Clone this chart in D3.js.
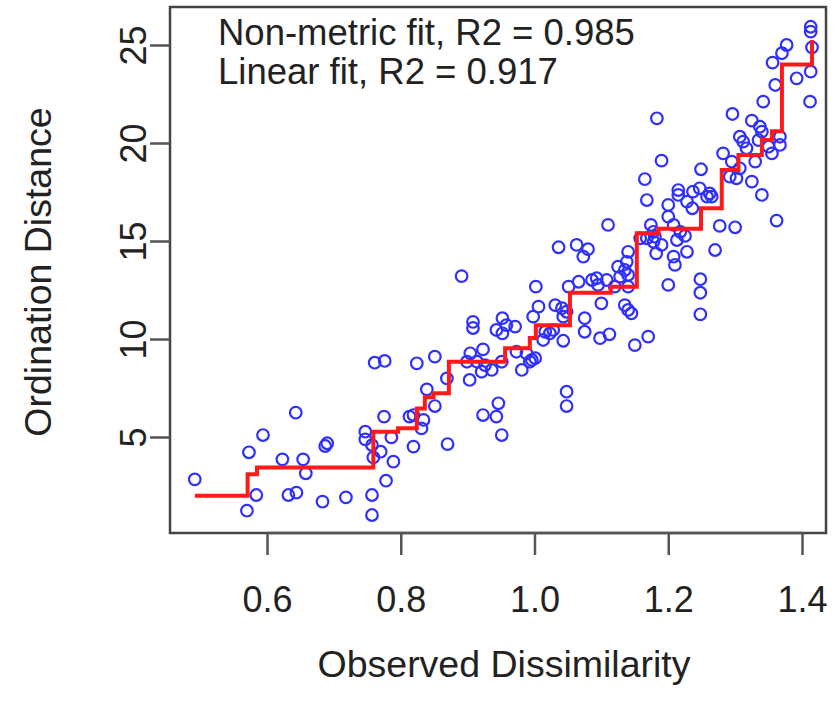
<!DOCTYPE html>
<html>
  <head>
    <meta charset="utf-8" />
    <title>Shepard plot</title>
    <style>
      body { margin: 0; background: #fff; }
      svg text { font-family: "Liberation Sans", Arial, sans-serif; fill: #222; }
    </style>
  </head>
  <body>
    <div id="chart"></div>
    <script src="https://d3js.org/d3.v7.min.js"></script>
    <script>
      // observed dissimilarity (x) and ordination distance (y)
      var dissim = [
        0.492, 0.643, 0.594, 0.573, 0.623, 0.654, 0.658, 0.687, 0.690, 0.584,
        0.570, 0.632, 0.644, 0.683, 0.718, 0.757, 0.757, 0.778, 0.775, 0.747,
        0.747, 0.786, 0.757, 0.770, 0.759, 0.789, 0.761, 0.776, 0.824, 0.851,
        0.904, 0.923, 0.914, 0.926, 0.899, 0.921, 0.936, 0.951, 0.973, 0.988,
        1.001, 0.993, 0.981, 0.869, 0.903, 0.839, 0.851, 0.813, 0.819, 0.834,
        0.831, 0.923, 0.946, 0.943, 0.951, 0.870, 0.819, 1.048, 1.048, 0.908,
        0.908, 0.952, 0.943, 0.952, 0.971, 0.958, 0.998, 1.006, 1.031, 1.041,
        1.043, 1.016, 1.023, 1.013, 1.043, 1.110, 1.036, 1.063, 1.080, 1.073,
        1.140, 1.125, 1.138, 1.135, 1.128, 1.140, 1.168, 1.180, 1.190, 1.213,
        1.225, 1.228, 1.208, 1.210, 1.182, 1.200, 1.002, 1.051, 1.066, 1.086,
        1.093, 1.108, 1.095, 1.120, 1.140, 1.100, 1.048, 1.135, 1.140, 1.145,
        1.075, 1.075, 1.098, 1.112, 1.028, 1.150, 1.170, 0.996, 1.342, 1.412,
        1.183, 1.296, 1.325, 1.340, 1.307, 1.312, 1.317, 1.335, 1.350, 1.355,
        1.367, 1.367, 1.282, 1.295, 1.307, 1.330, 1.190, 1.249, 1.165, 1.292,
        1.302, 1.325, 1.340, 1.215, 1.215, 1.237, 1.247, 1.262, 1.265, 1.258,
        1.228, 1.236, 1.200, 1.200, 1.168, 1.277, 1.300, 1.362, 1.174, 1.178,
        1.208, 1.218, 1.158, 1.178, 1.270, 1.248, 1.248, 1.248, 1.413, 1.413,
        1.415, 1.377, 1.370, 1.356, 1.360, 1.392, 1.413, 1.337, 0.891
      ];
      var ordDist = [
        2.84, 6.24, 5.10, 4.22, 3.86, 3.86, 3.15, 4.54, 4.68, 2.04,
        1.24, 2.04, 2.16, 1.70, 1.92, 2.04, 1.02, 2.77, 6.04, 5.27,
        4.88, 4.98, 4.59, 4.25, 3.96, 3.74, 8.79, 8.88, 8.76, 9.10,
        9.27, 9.47, 8.84, 8.67, 8.84, 8.33, 8.42, 8.84, 9.35, 9.27,
        9.02, 8.84, 8.42, 7.99, 7.91, 7.43, 6.58, 6.04, 6.12, 5.87,
        5.44, 6.12, 6.72, 6.04, 5.10, 4.64, 4.51, 7.31, 6.58, 10.87,
        10.56, 11.06, 10.46, 10.29, 10.63, 10.71, 11.14, 11.65, 11.73, 11.57,
        11.14, 10.37, 10.29, 9.95, 9.91, 15.82, 14.68, 14.80, 14.58, 14.20,
        14.45, 13.69, 13.94, 13.52, 13.18, 13.27, 15.14, 15.22, 14.80, 15.05,
        15.26, 14.45, 14.20, 13.78, 14.37, 12.76, 12.67, 12.67, 12.92, 13.01,
        13.10, 13.01, 12.76, 12.67, 12.67, 11.82, 11.39, 11.73, 11.48, 11.31,
        11.06, 10.37, 10.04, 10.24, 10.46, 9.69, 10.12, 8.93, 22.11, 22.11,
        21.26, 21.48, 21.14, 20.58, 20.32, 20.07, 19.73, 20.15, 19.81, 19.47,
        20.32, 19.90, 19.47, 19.05, 18.71, 19.05, 19.10, 18.66, 18.16, 18.28,
        18.20, 18.03, 17.35, 17.60, 17.35, 17.52, 17.69, 17.43, 17.26, 17.26,
        17.01, 16.67, 16.84, 16.24, 17.09, 15.77, 15.70, 16.04, 15.82, 15.47,
        15.82, 15.47, 15.14, 14.96, 14.54, 13.05, 12.36, 11.26, 25.93, 25.68,
        24.88, 25.00, 24.58, 24.10, 22.96, 23.30, 23.64, 20.83, 13.21
      ];

      // monotone (non-metric) fit: step start and level
      var stepX = [0.492, 0.571, 0.585, 0.759, 0.796, 0.824, 0.836, 0.849, 0.872, 0.956,
                   0.993, 1.002, 1.053, 1.114, 1.153, 1.185, 1.249, 1.280, 1.305, 1.340,
                   1.355, 1.370, 1.415];
      var stepY = [2.0, 3.1, 3.45, 5.27, 5.45, 6.46, 7.03, 7.23, 8.84, 9.53,
                   10.05, 10.7, 12.36, 12.67, 15.39, 15.62, 16.67, 18.62, 19.39, 20.15,
                   20.6, 24.0, 25.26];

      var xTicks = [0.6, 0.8, 1.0, 1.2, 1.4];
      var yTicks = [5, 10, 15, 20, 25];
      var fitLabels = ["Non-metric fit, R2 = 0.985", "Linear fit, R2 = 0.917"];

      var W = 835, H = 701;
      var box = { left: 170, right: 826, top: 7, bottom: 533 };

      var x = d3.scaleLinear().domain([0.6, 1.4]).range([267, 802]);
      var y = d3.scaleLinear().domain([5, 25]).range([437, 45]);

      var svg = d3.select("#chart").append("svg")
        .attr("width", W).attr("height", H);

      // points
      var pts = d3.zip(dissim, ordDist);
      svg.append("g").selectAll("circle")
        .data(pts)
        .enter().append("circle")
        .attr("cx", d => x(d[0]))
        .attr("cy", d => y(d[1]))
        .attr("r", 5.8)
        .attr("fill", "none")
        .attr("stroke", "#2f2fff")
        .attr("stroke-width", 2.2);

      // step line
      var line = d3.line()
        .x(d => x(d[0]))
        .y(d => y(d[1]))
        .curve(d3.curveStepAfter);
      svg.append("path")
        .datum(d3.zip(stepX, stepY))
        .attr("d", line)
        .attr("fill", "none")
        .attr("stroke", "#ff1a1a")
        .attr("stroke-width", 4);

      // box
      svg.append("rect")
        .attr("x", box.left).attr("y", box.top)
        .attr("width", box.right - box.left)
        .attr("height", box.bottom - box.top)
        .attr("fill", "none")
        .attr("stroke", "#444")
        .attr("stroke-width", 2.5);

      // x axis
      var xa = svg.append("g")
        .attr("transform", "translate(0," + box.bottom + ")")
        .call(d3.axisBottom(x).tickValues(xTicks).tickSize(22).tickPadding(31)
          .tickFormat(d3.format(".1f")));
      xa.select(".domain").attr("stroke", "#555").attr("stroke-width", 2.5)
        .attr("d", "M" + x(0.6) + ",0H" + x(1.4));
      xa.selectAll(".tick line").attr("stroke", "#555").attr("stroke-width", 2.5);
      xa.selectAll("text").attr("font-size", 36).attr("fill", "#222")
        .attr("font-family", "Liberation Sans, Arial, sans-serif");

      // y axis, labels parallel to the axis
      var ya = svg.append("g")
        .attr("transform", "translate(" + box.left + ",0)")
        .call(d3.axisLeft(y).tickValues(yTicks).tickSize(20).tickFormat(d3.format("d")));
      ya.select(".domain").remove();
      ya.selectAll(".tick line").attr("stroke", "#555").attr("stroke-width", 2.5);
      ya.selectAll(".tick text")
        .attr("x", null).attr("dy", null)
        .attr("transform", "translate(-24,0) rotate(-90)")
        .attr("text-anchor", "middle")
        .attr("font-size", 36).attr("fill", "#222")
        .attr("font-family", "Liberation Sans, Arial, sans-serif");

      // axis titles
      svg.append("text")
        .attr("x", (box.left + box.right) / 2 + 6).attr("y", 677)
        .attr("text-anchor", "middle").attr("font-size", 37.5)
        .text("Observed Dissimilarity");
      svg.append("text")
        .attr("transform", "translate(51," + ((box.top + box.bottom) / 2 + 2) + ") rotate(-90)")
        .attr("text-anchor", "middle").attr("font-size", 37.5)
        .text("Ordination Distance");

      // fit statistics
      svg.selectAll(".fit")
        .data(fitLabels)
        .enter().append("text")
        .attr("class", "fit")
        .attr("x", 218)
        .attr("y", (d, i) => 45 + i * 39)
        .attr("font-size", 36.5)
        .text(d => d);
    </script>
  </body>
</html>
